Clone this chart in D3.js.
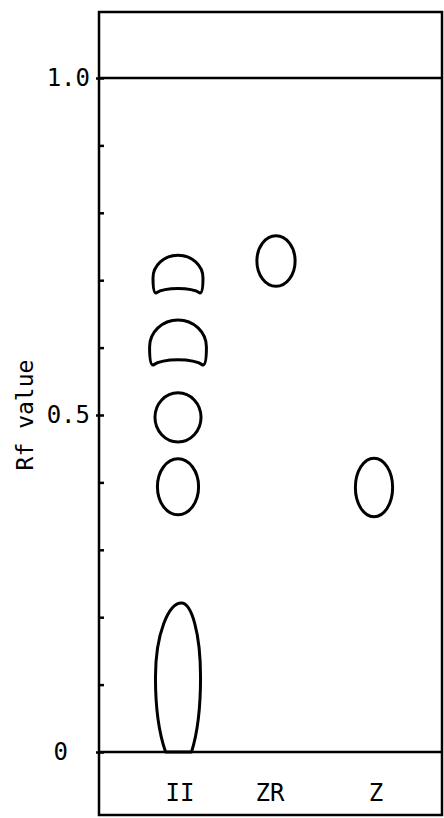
<!DOCTYPE html>
<html>
<head>
<meta charset="utf-8">
<title>Rf plate</title>
<script src="https://d3js.org/d3.v7.min.js"></script>
<style>
    body { margin: 0; background: #fff; }
    svg { display: block; }
    text { font-family: "DejaVu Sans Mono", monospace; fill: #000; }
    .spot { fill: none; stroke: #000; stroke-width: 3; stroke-linejoin: round; }
    .plate { fill: none; stroke: #000; stroke-width: 2.5; }
</style>
</head>
<body>
<div id="chart"></div>
<script>

    // lanes on the plate
    var lanes = ["II", "ZR", "Z"];

    // minor ticks and labelled ticks on the Rf axis
    var rfTicks = [0, 0.1, 0.2, 0.3, 0.4, 0.5, 0.6, 0.7, 0.8, 0.9, 1.0];
    var rfLabelValues = [0, 0.5, 1.0];
    var rfLabels = ["0", "0.5", "1.0"];

    // spots: lane, upper and lower Rf edge, half width (fraction of lane spacing), shape
    var spotLane   = ["II", "II", "II", "II", "II", "ZR", "Z"];
    var spotTop    = [0.737, 0.641, 0.533, 0.435, 0.221, 0.766, 0.436];
    var spotBottom = [0.681, 0.574, 0.460, 0.352, 0.000, 0.691, 0.349];
    var spotHalfW  = [0.255, 0.29, 0.235, 0.21, 0.23, 0.195, 0.19];
    var spotShape  = ["crescent", "crescent", "ellipse", "ellipse", "streak", "ellipse", "ellipse"];

    var W = 444, H = 818;
    var plate = { left: 99, right: 442, top: 12, bottom: 815 };

    var svg = d3.select("#chart").append("svg")
        .attr("width", W)
        .attr("height", H);

    var y = d3.scaleLinear().domain([0, 1]).range([752, 78]);
    var x = d3.scalePoint().domain(lanes).range([178, 374]);
    var w = d3.scaleLinear().domain([0, 1]).range([0, x.step()]);

    // plate outline
    svg.append("rect")
        .attr("class", "plate")
        .attr("x", plate.left)
        .attr("y", plate.top)
        .attr("width", plate.right - plate.left)
        .attr("height", plate.bottom - plate.top);

    // solvent front and origin
    svg.selectAll(".refline")
        .data([0, 1])
        .enter().append("line")
        .attr("class", "plate")
        .attr("x1", plate.left)
        .attr("x2", plate.right)
        .attr("y1", function(d) { return y(d); })
        .attr("y2", function(d) { return y(d); });

    // inward minor ticks
    var minor = svg.append("g")
        .attr("transform", "translate(" + plate.left + ",0)")
        .call(d3.axisRight(y).tickValues(rfTicks).tickSize(5).tickFormat(""));
    minor.select(".domain").remove();
    minor.selectAll("line").attr("stroke-width", 2.5);

    // labels on the left
    var major = svg.append("g")
        .attr("transform", "translate(" + plate.left + ",0)")
        .call(d3.axisLeft(y).tickValues(rfLabelValues).tickSize(3).tickPadding(6)
            .tickFormat(function(d, i) { return rfLabels[i]; }));
    major.select(".domain").remove();
    major.selectAll("line").attr("stroke-width", 2.5);
    major.selectAll("text")
        .style("font-size", "24px")
        .style("font-family", "'DejaVu Sans Mono', monospace")
        .attr("fill", "#000")
        .attr("dx", function(d) { return d === 0 ? -22 : 0; });

    // axis title
    svg.append("text")
        .attr("transform", "translate(33,415) rotate(-90)")
        .attr("text-anchor", "middle")
        .style("font-size", "23px")
        .text("Rf value");

    // lane labels
    svg.selectAll(".lane")
        .data(lanes)
        .enter().append("text")
        .attr("class", "lane")
        .attr("x", function(d) { return x(d) + (d === "ZR" ? -6 : 2); })
        .attr("y", 801)
        .attr("text-anchor", "middle")
        .style("font-size", "24px")
        .text(function(d) { return d; });

    // spot outlines
    function spotPath(i) {
        var cx = x(spotLane[i]),
            yt = y(spotTop[i]),
            yb = y(spotBottom[i]),
            hw = w(spotHalfW[i]),
            h = yb - yt,
            k = 0.5523,
            p = d3.path();
        if (spotShape[i] === "ellipse") {
            var cy = (yt + yb) / 2, ry = h / 2;
            p.moveTo(cx - hw, cy);
            p.bezierCurveTo(cx - hw, cy - k * ry, cx - k * hw, yt, cx, yt);
            p.bezierCurveTo(cx + k * hw, yt, cx + hw, cy - k * ry, cx + hw, cy);
            p.bezierCurveTo(cx + hw, cy + k * ry, cx + k * hw, yb, cx, yb);
            p.bezierCurveTo(cx - k * hw, yb, cx - hw, cy + k * ry, cx - hw, cy);
        } else if (spotShape[i] === "crescent") {
            // dome over a slightly hollow lower edge
            var cm = yt + 0.6 * h, rt = 0.6 * h, dip = 0.12 * h;
            p.moveTo(cx - hw, cm);
            p.bezierCurveTo(cx - hw, cm - k * rt, cx - k * hw, yt, cx, yt);
            p.bezierCurveTo(cx + k * hw, yt, cx + hw, cm - k * rt, cx + hw, cm);
            p.bezierCurveTo(cx + hw, yb - 0.15 * h, cx + 0.97 * hw, yb, cx + 0.88 * hw, yb);
            p.bezierCurveTo(cx + 0.5 * hw, yb - 1.3 * dip, cx - 0.5 * hw, yb - 1.3 * dip, cx - 0.88 * hw, yb);
            p.bezierCurveTo(cx - 0.97 * hw, yb, cx - hw, yb - 0.15 * h, cx - hw, cm);
        } else {
            p.moveTo(cx - 0.55 * hw, yb);
            p.bezierCurveTo(cx - 0.9 * hw, yb - 0.15 * h, cx - hw, yb - 0.35 * h, cx - hw, yb - 0.5 * h);
            p.bezierCurveTo(cx - hw, yb - 0.8 * h, cx - 0.4 * hw, yt, cx + 0.15 * hw, yt);
            p.bezierCurveTo(cx + 0.6 * hw, yt, cx + hw, yb - 0.8 * h, cx + hw, yb - 0.5 * h);
            p.bezierCurveTo(cx + hw, yb - 0.3 * h, cx + 0.85 * hw, yb - 0.12 * h, cx + 0.6 * hw, yb);
        }
        p.closePath();
        return p.toString();
    }

    svg.selectAll(".spot")
        .data(spotLane)
        .enter().append("path")
        .attr("class", "spot")
        .attr("d", function(d, i) { return spotPath(i); });

</script>
</body>
</html>
